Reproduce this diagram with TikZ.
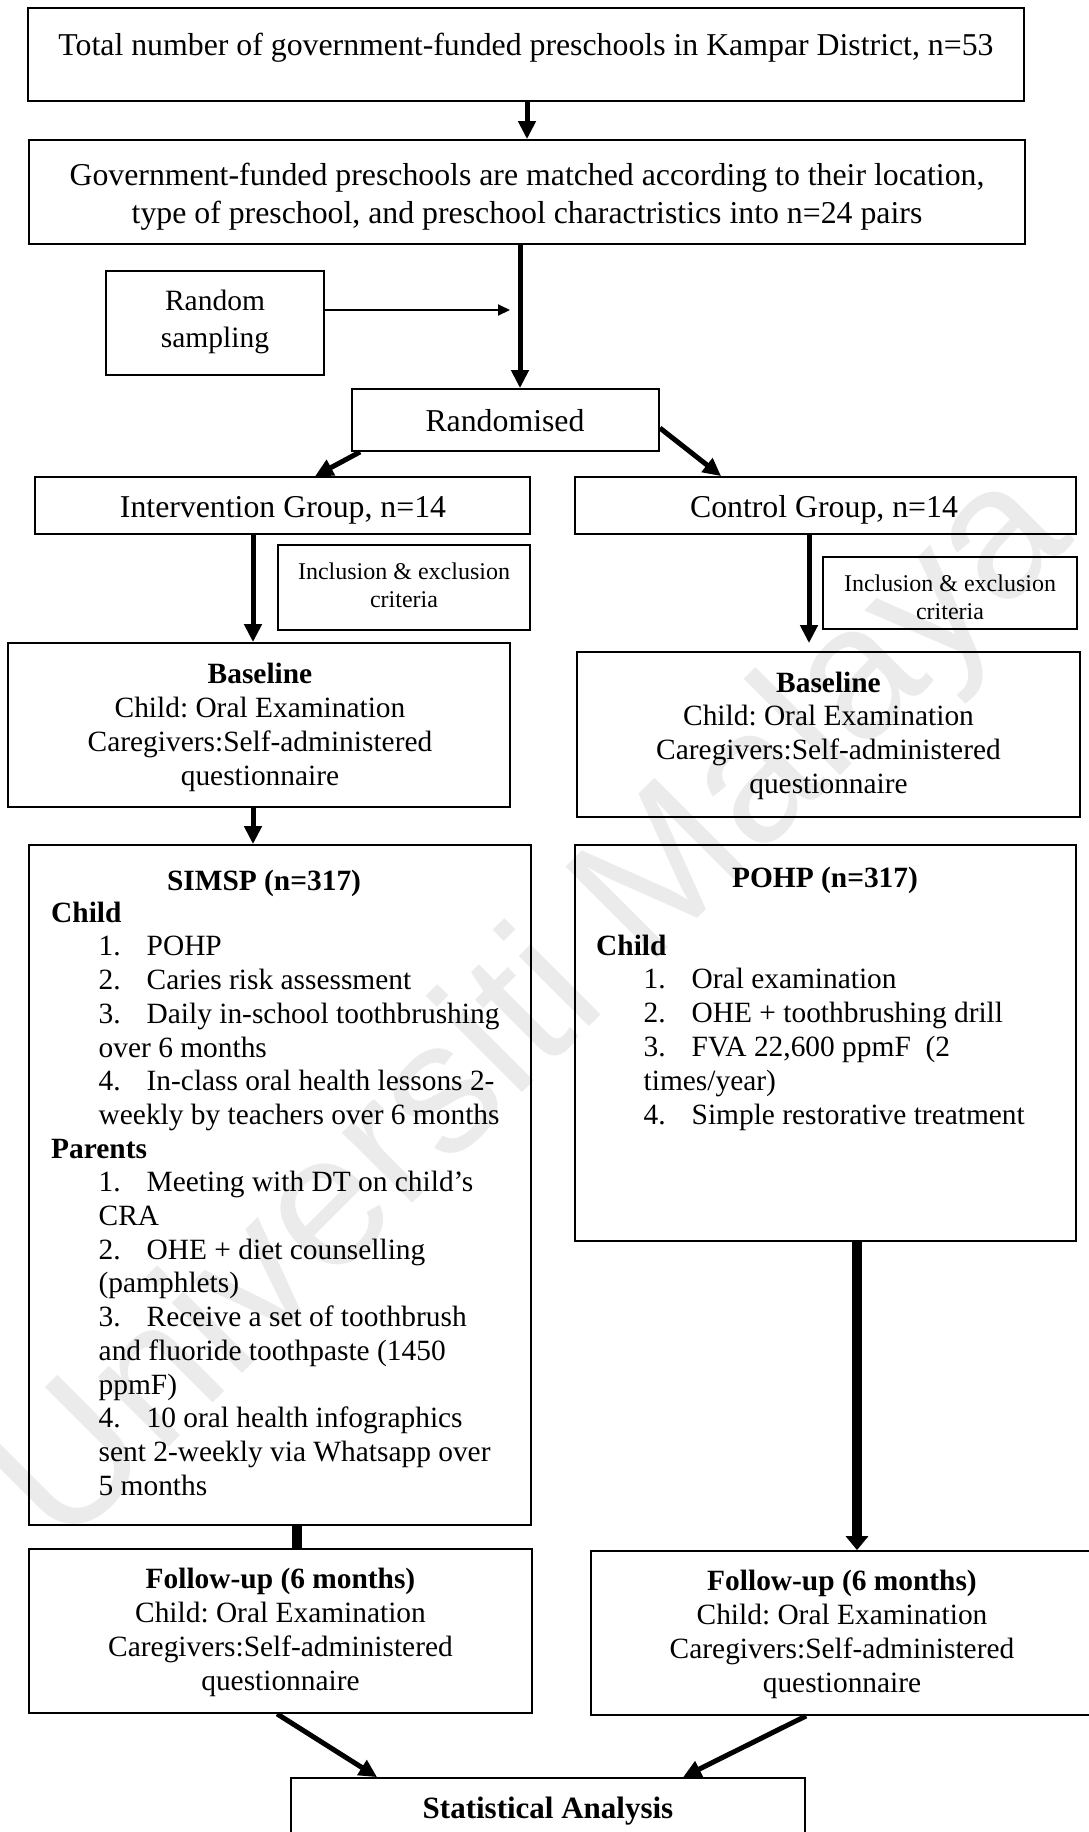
\documentclass[tikz,border=0pt]{standalone}
\usepackage{fontspec}
\setmainfont{Liberation Serif}
\newfontfamily\wmfont{Liberation Sans}
\usetikzlibrary{arrows.meta,calc}
\frenchspacing
\newcommand{\lsitem}[1]{\hspace*{47.5pt}\makebox[48pt][l]{#1}}
\newcommand{\lscont}{\hspace*{47.5pt}}
\newcommand{\fBig}{\fontsize{31.8}{38}\selectfont}
\newcommand{\fMid}{\fontsize{29.4}{34}\selectfont}
\newcommand{\fRS}{\fontsize{29.5}{37}\selectfont}
\newcommand{\fSm}{\fontsize{24}{27.5}\selectfont}
\newcommand{\fList}{\fontsize{29.4}{33.7}\selectfont}
\newcommand{\fWM}{\fontsize{188}{188}\selectfont\wmfont}
\begin{document}
\begin{tikzpicture}[x=1pt,y=-1pt,
  box/.style={draw, line width=1.8pt, inner sep=0pt},
  txt/.style={inner sep=0pt, align=center},
  lst/.style={inner sep=0pt, align=left, anchor=north west},
  arr/.style={line width=5pt, -{Triangle[length=18pt,width=17pt]}},
  thinarr/.style={line width=2pt, -{Triangle[length=12pt,width=11pt]}},
  bigarr/.style={line width=10pt, -{Triangle[length=14pt,width=22pt]}},
  stub/.style={line width=10pt}]
\useasboundingbox (0,0) rectangle (1088,1832);
% watermark
\node[rotate=45, text=black!8, font=\fWM, inner sep=0pt] (wm) at (535,1012) {Universiti Malaya};
% boxes
\node[box, minimum width=996pt, minimum height=93pt] (box1) at (526,54.5) {};
\node[box, minimum width=996pt, minimum height=104pt] (box2) at (527,192) {};
\node[box, minimum width=218pt, minimum height=104pt] (rs) at (215,323) {};
\node[box, minimum width=307pt, minimum height=62pt] (rand) at (505.5,420) {};
\node[box, minimum width=495pt, minimum height=57pt] (ig) at (282.5,505.5) {};
\node[box, minimum width=501pt, minimum height=57pt] (cg) at (825.5,505.5) {};
\node[box, minimum width=252pt, minimum height=85pt] (incl1) at (404,587.5) {};
\node[box, minimum width=254pt, minimum height=72pt] (incl2) at (950,593) {};
\node[box, minimum width=502pt, minimum height=164pt] (bl1) at (259,725) {};
\node[box, minimum width=503pt, minimum height=165pt] (bl2) at (828.5,734.5) {};
\node[box, minimum width=502pt, minimum height=680pt] (simsp) at (280,1185) {};
\node[box, minimum width=501pt, minimum height=396pt] (pohp) at (825.5,1043) {};
\node[box, minimum width=503pt, minimum height=164pt] (fu1) at (280.5,1631) {};
\node[box, minimum width=501pt, minimum height=164pt] (fu2) at (841.5,1633) {};
\node[box, minimum width=514pt, minimum height=72pt] (stats) at (548,1814) {};
% texts
\node[txt, font=\fBig, anchor=base] (t1) at (526,55) {Total number of government-funded preschools in Kampar District, n=53};
\node[txt, font=\fBig, anchor=north] (t2) at (527,158.4) {\strut Government-funded preschools are matched according to their location,\\type of preschool, and preschool charactristics into n=24 pairs};
\node[txt, font=\fRS, anchor=north] (trs) at (215,284.1) {\strut Random\\sampling};
\node[txt, font=\fBig, anchor=base] (trand) at (505,431) {Randomised};
\node[txt, font=\fBig, anchor=base] (tig) at (283,517) {Intervention Group, n=14};
\node[txt, font=\fBig, anchor=base] (tcg) at (824,517) {Control Group, n=14};
\node[txt, font=\fSm, anchor=north] (ti1) at (404,560.1) {\strut Inclusion \& exclusion\\criteria};
\node[txt, font=\fontsize{24}{28}\selectfont, anchor=north] (ti2) at (950,571.4) {\strut Inclusion \& exclusion\\criteria};
\node[txt, font=\fMid, anchor=north] (tbl1) at (260,659.2) {\strut\textbf{Baseline}\\Child: Oral Examination\\Caregivers:Self-administered\\questionnaire};
\node[txt, font=\fontsize{29.4}{33.7}\selectfont, anchor=north] (tbl2) at (828.5,668.4) {\strut\textbf{Baseline}\\Child: Oral Examination\\Caregivers:Self-administered\\questionnaire};
\node[txt, font=\fList\bfseries, anchor=base] (tsimsp) at (264,890) {SIMSP (n=317)};
\node[lst, font=\fList] (lsimsp) at (51,898.4) {\strut\textbf{Child}\\
\lsitem{1.}POHP\\
\lsitem{2.}Caries risk assessment\\
\lsitem{3.}Daily in-school toothbrushing\\
\lscont over 6 months\\
\lsitem{4.}In-class oral health lessons 2-\\
\lscont weekly by teachers over 6 months\\
\textbf{Parents}\\
\lsitem{1.}Meeting with DT on child’s\\
\lscont CRA\\
\lsitem{2.}OHE + diet counselling\\
\lscont (pamphlets)\\
\lsitem{3.}Receive a set of toothbrush\\
\lscont and fluoride toothpaste (1450\\
\lscont ppmF)\\
\lsitem{4.}10 oral health infographics\\
\lscont sent 2-weekly via Whatsapp over\\
\lscont 5 months};
\node[txt, font=\fList\bfseries, anchor=base] (tpohp) at (825,887) {POHP (n=317)};
\node[lst, font=\fontsize{29.4}{33.8}\selectfont] (lpohp) at (596,931.2) {\strut\textbf{Child}\\
\lsitem{1.}Oral examination\\
\lsitem{2.}OHE + toothbrushing drill\\
\lsitem{3.}FVA 22,600 ppmF\ \ (2\\
\lscont times/year)\\
\lsitem{4.}Simple restorative treatment};
\node[txt, font=\fMid, anchor=north] (tfu1) at (280.5,1564.2) {\strut\textbf{Follow-up (6 months)}\\Child: Oral Examination\\Caregivers:Self-administered\\questionnaire};
\node[txt, font=\fMid, anchor=north] (tfu2) at (842,1566.2) {\strut\textbf{Follow-up (6 months)}\\Child: Oral Examination\\Caregivers:Self-administered\\questionnaire};
\node[txt, font=\fontsize{31}{36}\selectfont\bfseries, anchor=base] (tstats) at (548,1818) {Statistical Analysis};
% connectors
\coordinate (rsend) at (510,310);
\draw[arr] ($(box1.south)+(1,0)$) -- (box2.north);
\draw[arr] ($(box2.south)+(-7,0)$) -- ($(rand.north)+(14.5,0)$);
\draw[thinarr] (rs.east |- rsend) -- (rsend);
\draw[arr] ($(rand.south west)+(9,0)$) -- ($(ig.north west)+(281,0)$);
\draw[arr] ($(rand.east)+(0,8)$) -- ($(cg.north west)+(147,0)$);
\draw[arr] ($(ig.south)+(-29.5,0)$) -- ($(bl1.north)+(-6,0)$);
\draw[arr] ($(cg.south)+(-16.5,0)$) -- ($(bl2.north)+(-19.5,-8)$);
\draw[arr] ($(bl1.south)+(-6,0)$) -- ($(simsp.north)+(-27,0)$);
\draw[stub] ($(simsp.south)+(17,0)$) -- ($(fu1.north)+(16.5,0)$);
\draw[bigarr] ($(pohp.south)+(31.5,0)$) -- ($(fu2.north)+(15.5,0)$);
\draw[arr] ($(fu1.south west)+(249,0)$) -- ($(stats.north west)+(87,0)$);
\draw[arr] ($(fu2.south west)+(216,0)$) -- ($(stats.north west)+(393,0)$);
\end{tikzpicture}
\end{document}
